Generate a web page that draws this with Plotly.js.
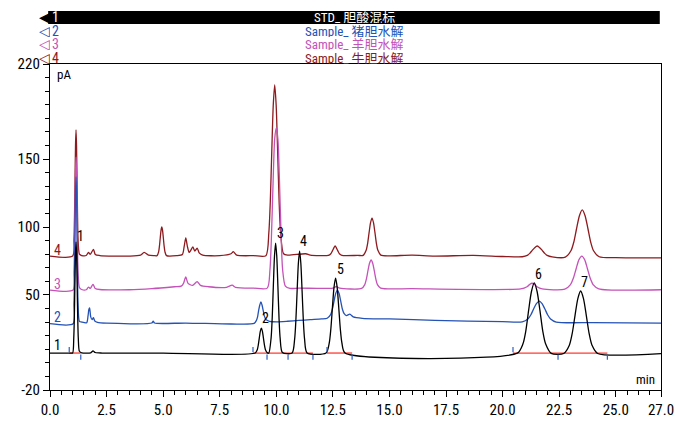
<!DOCTYPE html>
<html><head><meta charset="utf-8">
<script src="https://cdn.plot.ly/plotly-3.0.1.min.js"></script>
<style>html,body{margin:0;padding:0;background:#fff}#chart{width:676px;height:423px}</style>
</head><body><div id="chart"></div>
<script>
// ---- Data (time in min, signal in pA, as displayed with offsets) ----
const seriesNames = ["STD_ 胆酸混标", "Sample_ 猪胆水解", "Sample_ 羊胆水解", "Sample_ 牛胆水解"];
const seriesNums = ["1", "2", "3", "4"];
const seriesColors = ["#000000", "#2452b5", "#c452b8", "#8c1a1e"];

const std_t = [0,0.9,1.0,1.05,1.075,1.10,1.125,1.15,1.175,1.20,1.225,1.25,1.30,1.40,1.8,1.9,2.0,2.3,5.0,9.07,9.16,9.205,9.25,9.295,9.34,9.385,9.43,9.475,9.52,9.61,9.67,9.77,9.82,9.87,9.92,9.97,10.02,10.07,10.12,10.17,10.27,10.70,10.81,10.865,10.92,10.975,11.03,11.085,11.14,11.195,11.25,11.36,12.20,12.34,12.41,12.48,12.55,12.62,12.69,12.76,12.83,12.90,13.04,20.65,20.90,21.025,21.15,21.275,21.40,21.525,21.65,21.775,21.90,22.15,22.70,22.95,23.075,23.20,23.325,23.45,23.575,23.70,23.825,23.95,24.20,27];
const std_v = [7.2,7.2,7.2,18.3,33.4,57.5,80,89,80,57.5,33.4,18.3,8.5,7.4,7.4,8.8,7.6,7.2,7.2,7.2,9.7,13.2,18.4,23.4,25.6,23.4,18.4,13.2,9.7,7.3,7.2,18.2,33.2,56.8,78.6,88.2,78.6,56.8,33.2,18.2,7.6,7.2,17.4,31.2,52.9,73.1,82.3,73.1,52.9,31.2,17.4,7.3,7.2,14.6,24.8,40.7,55.6,62.4,55.6,40.7,24.8,14.6,7.2,7.1,14.0,23.4,38.6,52.5,58.8,52.5,38.6,23.4,14.0,7.0,6.9,13.0,21.5,34.8,47.3,52.9,47.3,34.8,21.5,13.0,6.9,6.8];

const pig_t = [0,1.02,1.06,1.083,1.105,1.128,1.15,1.172,1.195,1.217,1.24,1.30,1.40,1.62,1.68,1.72,1.75,1.80,1.86,1.92,1.98,2.1,2.5,4.5,4.56,4.62,6.0,8.0,9.02,9.12,9.17,9.22,9.27,9.32,9.37,9.42,9.47,9.55,9.7,10.0,10.5,11.0,11.5,12.0,12.25,12.40,12.475,12.55,12.625,12.70,12.775,12.85,12.925,13.0,13.1,13.25,13.4,13.8,15,17,20,20.87,21.12,21.245,21.37,21.495,21.62,21.745,21.87,21.995,22.12,22.37,24,27];
const pig_v = [28.8,28.8,43.5,63.5,95,124.5,136.8,124.5,95,63.5,43.5,30.6,30.0,29.5,34.5,39.5,40.4,33.8,31.8,33.2,30.8,29.8,29.2,29.3,30.6,29.3,29.3,28.6,29.0,31.2,33.6,38.7,42.6,44.8,42.6,38.7,34.6,31.8,30.6,30.2,30.6,31.2,31.8,32.3,32.8,35.5,39.3,45.2,51.0,53.6,51.0,45.2,39.3,36.2,34.8,35.8,33.8,32.8,32.3,31.3,30.3,30.2,32.3,35.2,39.6,43.6,45.5,43.6,39.6,35.2,32.3,30.0,29.6,29.3];

const sheep_t = [0,1.02,1.06,1.083,1.105,1.128,1.15,1.172,1.195,1.217,1.24,1.30,1.40,1.6,1.7,1.78,1.9,2.0,2.2,3.5,4.5,5.5,5.8,5.9,6.0,6.1,6.3,6.5,6.65,7.0,7.8,8.05,8.2,9.0,9.6,9.72,9.79,9.86,9.93,10.0,10.07,10.14,10.21,10.28,10.40,10.6,11.0,12.5,12.65,12.8,13.77,13.91,13.98,14.05,14.12,14.19,14.26,14.33,14.40,14.47,14.61,16,20.8,21.08,21.19,21.30,21.41,21.52,21.75,22.75,23.0,23.125,23.25,23.375,23.5,23.625,23.75,23.875,24.0,24.25,27];
const sheep_v = [53.6,53.6,66.8,85.2,113.8,140.2,151.5,140.2,113.8,85.2,66.8,55.5,54.0,53.8,55.8,54.8,57.8,54.8,54.0,53.8,54.6,56.0,56.5,58.5,63.2,58.5,57.0,59.8,57.0,56.0,55.6,57.2,55.6,55.0,55.0,68.5,95,134,165,172.9,165,134,95,68.5,56.5,54.8,55.0,55.0,56.2,55.0,54.8,57.6,61.6,67.8,73.3,75.7,73.3,67.8,61.6,57.6,55.0,54.6,54.4,56.0,57.6,58.6,57.6,56.0,54.4,54.2,57.6,62.2,69.3,76.0,78.6,76.0,69.3,62.2,57.6,54.5,53.8];

const cow_t = [0,1.0,1.06,1.083,1.105,1.128,1.15,1.172,1.195,1.217,1.24,1.30,1.40,1.6,1.7,1.78,1.92,2.0,2.2,3.5,4.0,4.16,4.35,4.6,4.73,4.80,4.835,4.87,4.905,4.94,4.975,5.01,5.045,5.08,5.15,5.6,5.85,5.93,6.0,6.07,6.15,6.22,6.31,6.4,6.5,6.6,6.75,7.5,8.0,8.1,8.25,9.0,9.54,9.67,9.735,9.80,9.865,9.93,9.995,10.06,10.125,10.19,10.32,10.5,11.3,11.5,12.3,12.41,12.49,12.6,12.71,12.79,12.9,13.6,13.84,13.97,14.035,14.1,14.165,14.23,14.295,14.36,14.425,14.49,14.62,15,16,17,18.7,20,20.87,21.09,21.2,21.31,21.42,21.53,21.64,21.75,21.86,21.97,22.19,22.77,23.02,23.145,23.27,23.395,23.52,23.645,23.77,23.895,24.02,24.27,25,27];
const cow_v = [78.6,78.6,91.1,108,134.5,160.3,171.4,160.3,134.5,108,91.1,80,79,79,81.3,79.8,83.6,79.8,79,78.6,79.3,81.3,79.3,78.9,78.9,81.7,85.7,91.7,97.4,100,97.4,91.7,85.7,81.7,78.9,78.9,79.8,85.8,91.9,85.8,81.3,82.8,85.3,82.3,84.5,80.8,79.3,78.9,80.3,81.8,79.3,78.9,78.9,95.8,118.8,155.4,189.4,204.6,189.4,155.4,118.8,95.8,80.3,79.3,80.3,79.3,79.1,80.3,82.8,86,82.8,80.3,79.1,79.1,79.1,82.8,87.8,95.8,103.2,106.6,103.2,95.8,87.8,82.8,79.3,78.8,79.3,78.6,79.1,78.3,78.1,79.1,80.6,82.8,84.8,86,84.8,82.8,80.6,79.1,78.0,77.8,82.5,88.8,98.9,108.3,112.6,108.3,98.9,88.8,82.5,78.1,77.4,77.2];

// Peak labels of the standard trace
const peakLabel = ["1","2","3","4","5","6","7"];
const peakLabelT = [1.33, 9.51, 10.18, 11.19, 12.83, 21.6, 23.6];
const peakLabelV = [93.4, 33.0, 95.6, 89.7, 69.0, 65.4, 59.5];

// Integration baselines (red) and event ticks (blue) on trace 1
const intBaseV = 7.2;
const segStart = [0.85, 8.97, 12.24, 20.46];
const segEnd   = [1.36, 11.62, 13.35, 24.63];
const eventT   = [0.85, 1.36, 8.97, 9.59, 10.52, 11.62, 12.24, 13.35, 20.46, 22.45, 24.63];
const eventUp  = [1, 0, 1, 0, 0, 0, 1, 0, 1, 0, 0];

// Trace number labels at left
const numLabelT = [0.35, 0.35, 0.35, 0.35];
const numLabelV = [13.1, 33.8, 58.2, 83.0];

// Axis ticks
const xTickVals = [0,2.5,5,7.5,10,12.5,15,17.5,20,22.5,25,27];
const xTickText = ["0.0","2.5","5.0","7.5","10.0","12.5","15.0","17.5","20.0","22.5","25.0","27.0"];
const yTickVals = [-20,50,100,150,220];
const yTickText = ["-20","50","100","150","220"];

// ---- Build ----
const FONT = "'Roboto Condensed', 'Liberation Sans', Arial, sans-serif";
const CJK = "'Roboto Condensed', 'Noto Sans CJK SC', sans-serif";

const segX = [], segY = [];
segStart.forEach((s,i)=>{ segX.push(s, segEnd[i], null); segY.push(intBaseV, intBaseV, null); });
const evX = [], evY = [];
eventT.forEach((t,i)=>{
  evX.push(t, t, null);
  if (eventUp[i]) evY.push(intBaseV + 0.5, intBaseV + 4.5, null);
  else evY.push(intBaseV - 1.0, intBaseV - 5.0, null);
});

const lineData = [
  [cow_t, cow_v, 3],
  [sheep_t, sheep_v, 2],
  [pig_t, pig_v, 1],
];
const traces = lineData.map(([t,v,ci]) => ({
  x: t, y: v, type: 'scatter', mode: 'lines',
  line: {color: seriesColors[ci], width: 1.3, shape: 'spline', smoothing: 0.7},
  hoverinfo: 'skip', showlegend: false
}));
traces.push({x: segX, y: segY, type:'scatter', mode:'lines', line:{color:'#ff3b30', width:1.3}, showlegend:false, hoverinfo:'skip'});
traces.push({x: std_t, y: std_v, type:'scatter', mode:'lines', line:{color:seriesColors[0], width:1.3, shape:'spline', smoothing:0.7}, showlegend:false, hoverinfo:'skip'});
traces.push({x: evX, y: evY, type:'scatter', mode:'lines', line:{color:'#2f5fc4', width:1.2}, showlegend:false, hoverinfo:'skip'});

const annotations = [];
peakLabel.forEach((p,i)=>annotations.push({x: peakLabelT[i], y: peakLabelV[i], xref:'x', yref:'y', text:p, showarrow:false, font:{family:FONT, size:14, color:'#000'}}));
seriesNums.forEach((n,i)=>annotations.push({x: numLabelT[i], y: numLabelV[i], xref:'x', yref:'y', text:n, showarrow:false, font:{family:FONT, size:14, color:seriesColors[i]}}));

// header legend rows (paper coords)
const rowY = [1.144, 1.101, 1.061, 1.018];
const rowColors = ["#ffffff", seriesColors[1], seriesColors[2], seriesColors[3]];
seriesNames.forEach((nm,i)=>{
  annotations.push({xref:'paper', yref:'paper', x:0.499, y:rowY[i], yanchor:'middle', height:12, borderpad:0, text:nm, showarrow:false, font:{family:CJK, size:13, color:rowColors[i]}});
  annotations.push({xref:'paper', yref:'paper', x:0.001, y:rowY[i], xanchor:'left', yanchor:'middle', height:12, borderpad:0, text:seriesNums[i], showarrow:false, font:{family:FONT, size:14, color:rowColors[i]}});
  annotations.push({xref:'paper', yref:'paper', x:0.002, y:rowY[i], xanchor:'right', yanchor:'middle', height:12, borderpad:0, text: i===0 ? '◀' : '◁', showarrow:false, font:{family:"'DejaVu Sans', sans-serif", size:14, color: i===0 ? '#000' : seriesColors[i]}});
});
annotations.push({xref:'paper', yref:'paper', x:0.008, y:0.968, xanchor:'left', yanchor:'middle', text:'pA', showarrow:false, font:{family:FONT, size:13, color:'#000'}});
annotations.push({xref:'paper', yref:'paper', x:0.993, y:0.032, xanchor:'right', yanchor:'middle', text:'min', showarrow:false, font:{family:FONT, size:13, color:'#000'}});

const layout = {
  width: 676, height: 423,
  margin: {l:50, r:15, t:64, b:33, pad:0},
  paper_bgcolor:'#fff', plot_bgcolor:'#fff',
  showlegend:false,
  xaxis: {
    range:[0,27], tickvals:xTickVals, ticktext:xTickText, ticks:'outside', ticklen:6, tickwidth:1, tickcolor:'#000',
    minor:{dtick:0.5, tick0:0, ticks:'outside', ticklen:4, tickcolor:'#000'},
    showline:true, linecolor:'#000', linewidth:1.2, mirror:true, showgrid:false, zeroline:false,
    tickfont:{family:FONT, size:15, color:'#000'}
  },
  yaxis: {
    range:[-20,220], tickvals:yTickVals, ticktext:yTickText, ticks:'outside', ticklen:6, tickwidth:1, tickcolor:'#000',
    minor:{dtick:10, tick0:0, ticks:'outside', ticklen:4, tickcolor:'#000'},
    showline:true, linecolor:'#000', linewidth:1.2, mirror:true, showgrid:false, zeroline:false,
    tickfont:{family:FONT, size:15, color:'#000'}
  },
  shapes: [
    {type:'rect', xref:'paper', yref:'paper', x0:-0.003, x1:0.998, y0:1.1227, y1:1.1626, fillcolor:'#000', line:{width:0}, layer:'below'}
  ],
  annotations
};
Plotly.newPlot('chart', traces, layout, {staticPlot:true, displayModeBar:false});
</script></body></html>
